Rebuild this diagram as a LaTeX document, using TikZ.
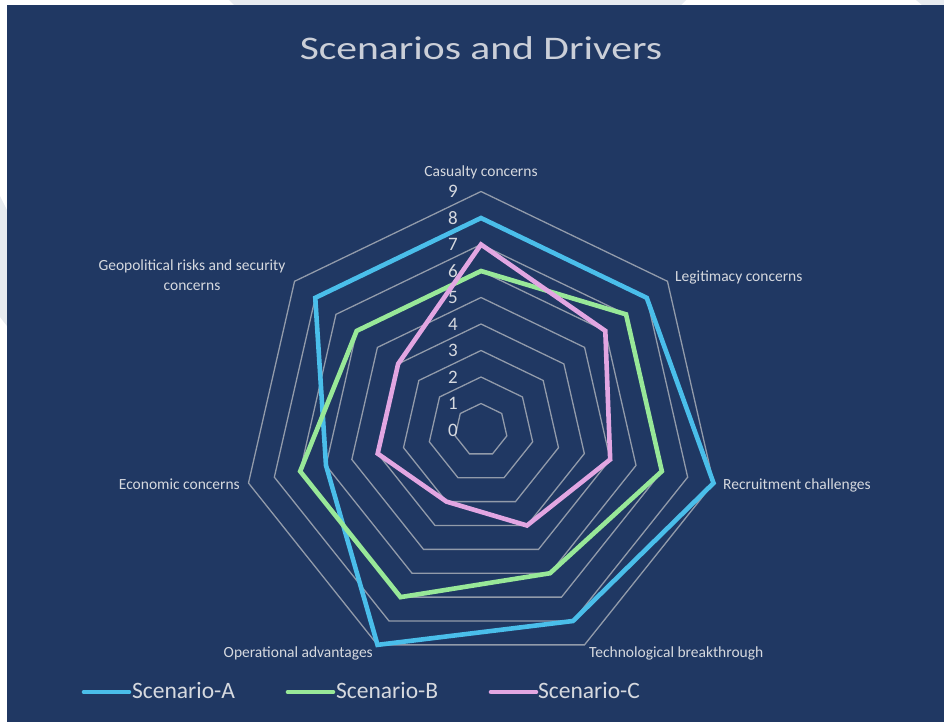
\documentclass[tikz,border=0pt]{standalone}
\usepackage{fontspec}
\setmainfont{Carlito}
\definecolor{navy}{RGB}{32,56,99}
\definecolor{gridc}{RGB}{146,155,170}
\definecolor{txt}{RGB}{214,217,223}
\definecolor{ttl}{RGB}{203,207,216}
\definecolor{sera}{RGB}{74,190,234}
\definecolor{serb}{RGB}{152,232,152}
\definecolor{serc}{RGB}{226,166,226}
\definecolor{deco}{RGB}{231,235,240}
\tikzset{
  gridline/.style={draw=gridc, line width=1.3pt, line join=miter},
  series/.style={line width=4.6pt, line join=miter, miter limit=10},
  sA/.style={series, draw=sera},
  sB/.style={series, draw=serb},
  sC/.style={series, draw=serc},
  axlab/.style={text=txt, inner sep=0pt, font=\fontsize{15.5}{19.5}\selectfont},
  tick/.style={text=txt, inner sep=0pt, anchor=east, font=\fontsize{19}{22}\selectfont},
  leglab/.style={text=txt, inner sep=0pt, anchor=base west, font=\fontsize{23.5}{28}\selectfont},
  legline/.style={line width=4.6pt, line cap=round}
}
\begin{document}
\begin{tikzpicture}[x=1pt,y=-1pt]
\useasboundingbox (0,0) rectangle (944,722);
\fill[white] (0,0) rectangle (944,722);
\fill[deco] (229,0) -- (686,0) -- (681,5) -- (234,5) -- cycle;
\fill[deco] (0,196) -- (7,210) -- (7,326) -- (0,317) -- cycle;
\fill[deco] (916,0) -- (944,0) -- (944,5) -- (922,5) -- cycle;
\fill[navy] (7,5) rectangle (944,722);

% title
\node[text=ttl, inner sep=0pt, anchor=base, font=\fontsize{33}{38}\selectfont] (title) at (481,59.5) {\scalebox{1.26}[1]{Scenarios and Drivers}};

% grid rings
\def\cx{481}\def\cy{430}\def\u{26.5}
\foreach \r in {1,...,9}{
  \draw[gridline] (\cx,{\cy-\u*\r})
    \foreach \k in {1,...,6}{ -- ({\cx+\u*\r*sin(\k*360/7)},{\cy-\u*\r*cos(\k*360/7)}) } -- cycle;
}

% tick labels
\foreach \k in {0,...,9}{
  \node[tick] (t\k) at (458,{\cy-\u*\k}) {\k};
}

% series coordinates
\foreach \v [count=\k from 0] in {8,8,9,8,9,6,8}{
  \coordinate (A\k) at ({\cx+\u*\v*sin(\k*360/7)},{\cy-\u*\v*cos(\k*360/7)});
}
\foreach \v [count=\k from 0] in {6,7,7,6,7,7,6}{
  \coordinate (B\k) at ({\cx+\u*\v*sin(\k*360/7)},{\cy-\u*\v*cos(\k*360/7)});
}
\foreach \v [count=\k from 0] in {7,6,5,4,3,4,4}{
  \coordinate (C\k) at ({\cx+\u*\v*sin(\k*360/7)},{\cy-\u*\v*cos(\k*360/7)});
}
\draw[sA] (A0) -- (A1) -- (A2) -- (A3) -- (A4) -- (A5) -- (A6) -- cycle;
\draw[sB] (B0) -- (B1) -- (B2) -- (B3) -- (B4) -- (B5) -- (B6) -- cycle;
\draw[sC] (C0) -- (C1) -- (C2) -- (C3) -- (C4) -- (C5) -- (C6) -- cycle;

% axis labels
\node[axlab, anchor=base] (cas) at (481,176.5) {Casualty concerns};
\node[axlab, anchor=base west] (leg) at (675,281) {Legitimacy concerns};
\node[axlab, anchor=base west] (rec) at (723,489) {Recruitment challenges};
\node[axlab, anchor=base west] (tec) at (589,657.5) {Technological breakthrough};
\node[axlab, anchor=base east] (ope) at (373,657.5) {Operational advantages};
\node[axlab, anchor=base east] (eco) at (240,489) {Economic concerns};
\node[axlab, anchor=base] (geo1) at (192,270.5) {Geopolitical risks and security};
\node[axlab, anchor=base] (geo2) at (192,290) {concerns};

% legend
\coordinate (la1) at (84,692); \coordinate (la2) at (129,692);
\coordinate (lb1) at (288,692); \coordinate (lb2) at (333,692);
\coordinate (lc1) at (491,692); \coordinate (lc2) at (536,692);
\draw[legline, draw=sera] (la1) -- (la2);
\draw[legline, draw=serb] (lb1) -- (lb2);
\draw[legline, draw=serc] (lc1) -- (lc2);
\node[leglab] (legA) at (132,698.5) {Scenario-A};
\node[leglab] (legB) at (336,698.5) {Scenario-B};
\node[leglab] (legC) at (538,698.5) {Scenario-C};
\end{tikzpicture}
\end{document}
